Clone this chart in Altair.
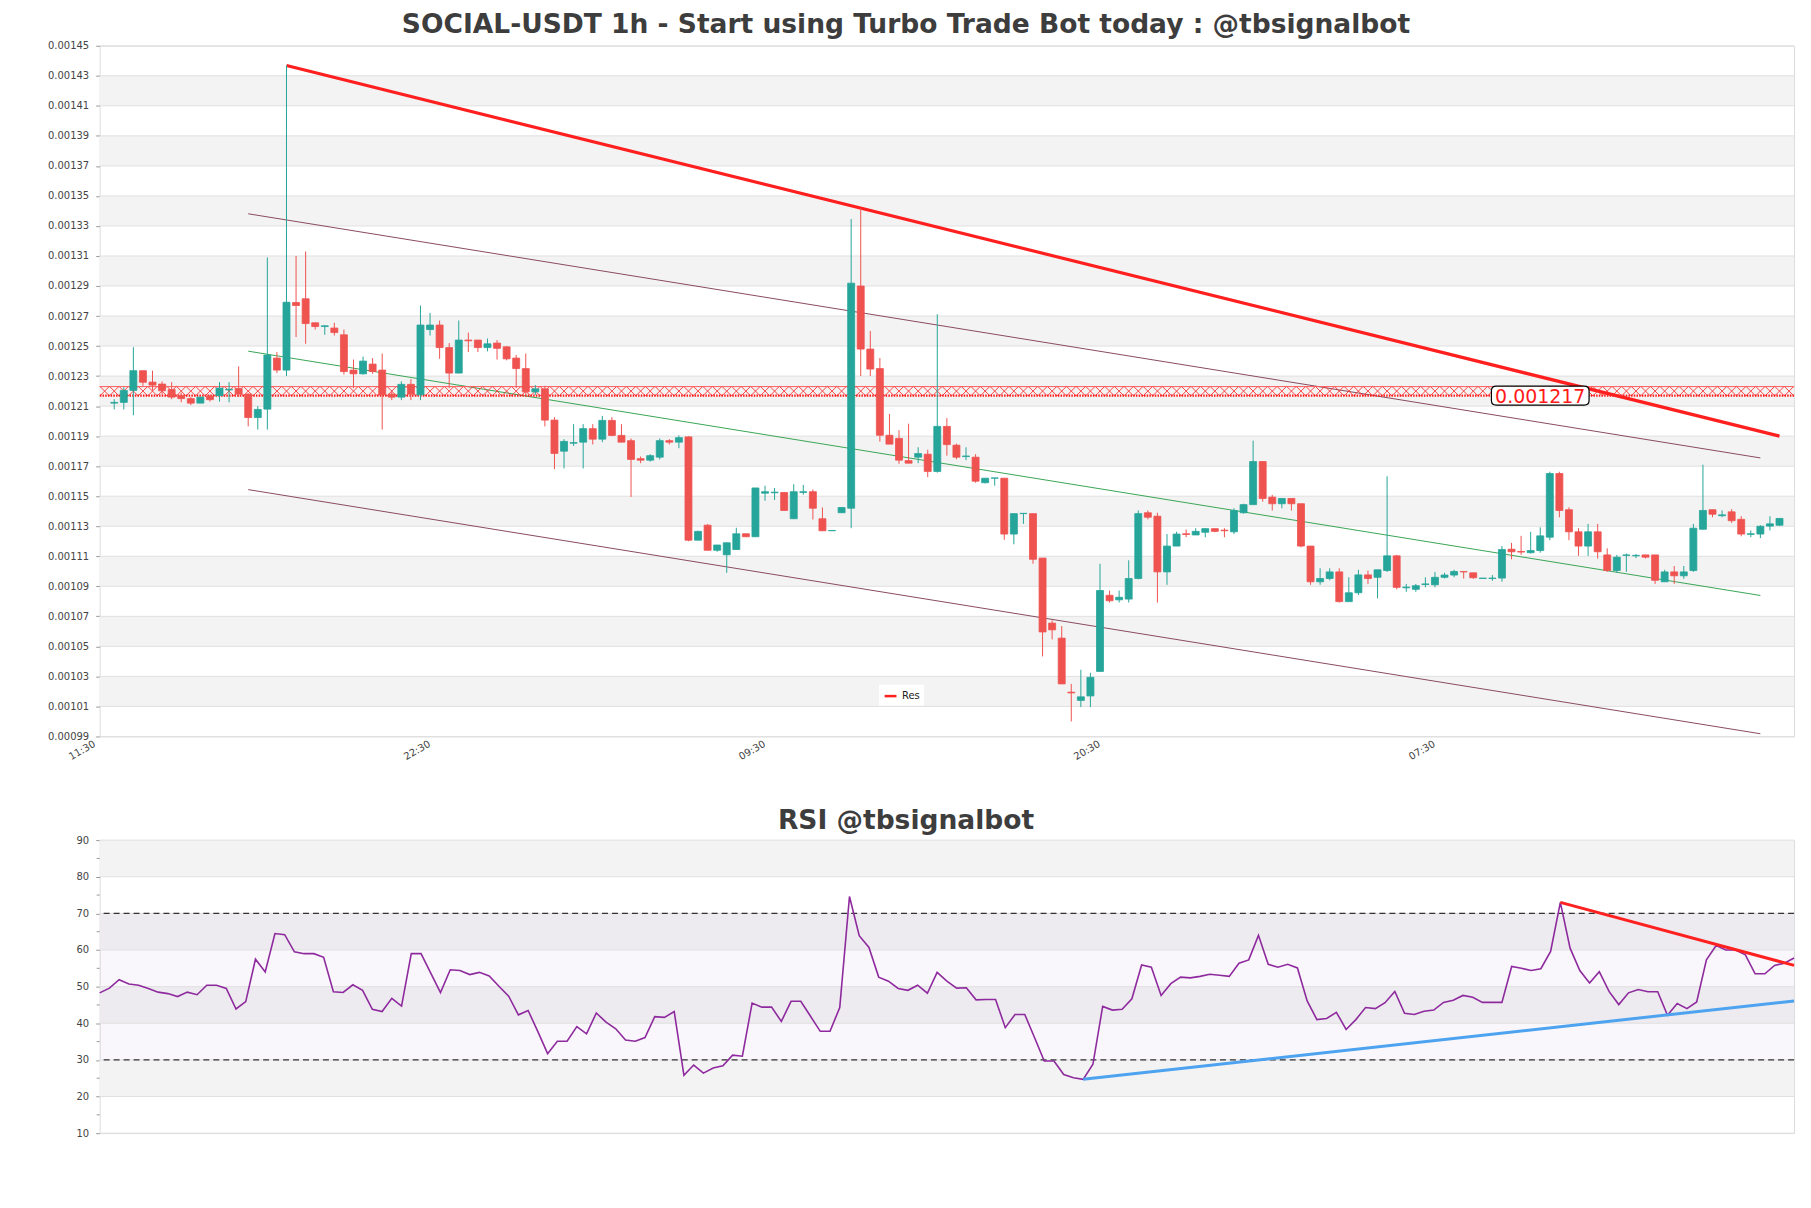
import altair as alt
import pandas as pd

S = 1e-5  # price values below are given in units of 1e-5 USDT

opens = [121.2, 121.25, 122.05, 123.36, 122.6, 122.47, 122.1, 121.7, 121.5, 121.2,
         121.67, 121.7, 122.08, 122.17, 121.8, 120.24, 120.8, 124.2, 123.4, 127.9,
         128.15, 126.55, 126.3, 126.2, 125.75, 123.4, 123.15, 123.8, 123.4, 121.8,
         121.6, 122.45, 121.75, 126.1, 126.4, 124.9, 123.2, 125.4, 125.4, 124.9,
         125.2, 124.95, 124.2, 123.5, 121.95, 122.15, 120.07, 118.0, 118.53, 118.6,
         119.5, 118.8, 120.05, 119.05, 118.7, 117.5, 117.4, 117.6, 118.7, 118.6,
         118.95, 112.07, 113.07, 111.4, 111.1, 111.45, 112.5, 112.3, 115.2, 115.23,
         115.25, 113.5, 115.25, 115.3, 113.5, 112.7, 113.9, 114.2, 129.0, 124.8,
         123.5, 119.06, 118.85, 117.37, 117.6, 117.8, 116.65, 119.65, 118.4, 117.64,
         117.6, 115.9, 116.2, 116.2, 112.48, 113.84, 113.84, 110.88, 106.55, 105.55,
         101.95, 101.4, 101.7, 103.33, 108.4, 108.1, 108.15, 109.52, 113.9, 113.67,
         109.96, 111.68, 112.5, 112.42, 112.6, 112.84, 112.74, 112.63, 113.9, 114.44,
         117.31, 114.94, 114.5, 114.85, 114.5, 111.68, 109.3, 109.52, 109.96, 107.98,
         108.57, 109.76, 109.6, 110.05, 111.03, 108.9, 108.8, 109.12, 109.1, 109.6,
         109.75, 109.98, 109.9, 109.52, 109.52, 109.55, 111.47, 111.32, 111.24, 111.38,
         112.27, 116.51, 114.1, 112.63, 111.68, 112.63, 111.09, 110.05, 111.06, 111.03,
         111.09, 111.09, 109.3, 109.96, 109.7, 110.05, 112.8, 114.1, 113.7, 113.96,
         113.46, 112.46, 112.48, 113.01, 113.07]
highs = [121.46, 122.26, 124.93, 123.36, 123.36, 122.64, 122.6, 121.9, 121.6, 121.6,
         121.76, 122.6, 122.6, 123.65, 121.85, 121.0, 130.9, 124.6, 143.68, 131.0,
         131.3, 126.55, 126.4, 126.55, 126.1, 124.1, 124.3, 124.2, 124.5, 122.05,
         122.65, 122.8, 127.7, 127.2, 126.7, 125.2, 126.7, 125.9, 125.4, 125.5,
         125.4, 125.0, 124.4, 124.5, 122.4, 122.35, 120.27, 118.8, 119.8, 119.8,
         119.8, 120.35, 120.27, 119.8, 118.85, 117.65, 117.8, 118.85, 118.8, 119.05,
         119.0, 112.7, 113.15, 111.75, 111.9, 112.9, 112.5, 115.55, 115.7, 115.55,
         115.25, 115.8, 115.75, 115.45, 114.25, 112.72, 114.25, 133.46, 134.2, 126.0,
         124.2, 120.48, 119.4, 119.83, 118.26, 118.1, 127.12, 120.2, 118.5, 118.26,
         117.8, 116.2, 116.22, 116.2, 113.84, 113.86, 113.84, 110.88, 106.73, 106.35,
         102.5, 103.44, 103.24, 110.5, 108.72, 108.72, 110.73, 114.05, 114.05, 113.9,
         112.48, 112.63, 112.78, 112.87, 112.84, 112.84, 112.87, 114.2, 114.5, 118.7,
         117.31, 115.09, 114.85, 114.85, 114.5, 111.68, 110.2, 110.2, 110.2, 109.6,
         110.1, 110.05, 110.1, 116.33, 111.09, 109.16, 109.16, 109.6, 109.96, 109.9,
         110.1, 109.98, 109.9, 109.55, 109.75, 111.68, 111.89, 112.36, 112.63, 112.93,
         116.63, 116.63, 114.26, 112.87, 113.16, 113.16, 111.53, 111.09, 111.18, 111.15,
         111.09, 111.09, 110.1, 110.35, 110.35, 113.16, 117.1, 114.1, 114.05, 114.14,
         113.67, 112.72, 113.07, 113.67, 113.52]
lows = [120.78, 120.78, 120.39, 122.35, 122.05, 121.76, 121.46, 121.25, 121.07, 121.2,
        121.3, 121.3, 121.25, 121.6, 119.65, 119.44, 119.44, 123.2, 123.0, 125.6,
        125.15, 126.1, 125.75, 125.7, 123.1, 122.2, 123.1, 123.15, 119.44, 121.4,
        121.4, 121.4, 121.4, 125.7, 124.15, 122.2, 123.2, 124.6, 124.6, 124.65,
        124.1, 124.05, 122.2, 121.75, 121.75, 119.65, 116.8, 116.85, 118.35, 116.85,
        118.45, 118.6, 119.0, 118.6, 114.95, 117.2, 117.3, 117.45, 118.45, 118.2,
        112.0, 112.07, 111.4, 111.3, 109.9, 111.45, 112.3, 112.3, 114.7, 114.75,
        114.05, 113.5, 115.1, 113.45, 112.7, 112.7, 113.9, 112.87, 123.0, 123.0,
        118.64, 118.47, 117.16, 117.2, 117.2, 116.27, 116.57, 117.7, 117.46, 117.4,
        115.9, 115.85, 115.7, 112.1, 111.8, 113.16, 110.5, 104.33, 105.46, 102.5,
        100.0, 100.96, 100.96, 103.33, 107.92, 107.92, 107.92, 109.46, 113.46, 107.92,
        109.1, 111.68, 112.27, 112.42, 112.27, 112.6, 112.27, 112.48, 113.84, 114.44,
        114.64, 114.05, 114.2, 114.05, 111.6, 109.1, 109.1, 109.4, 107.92, 107.98,
        108.42, 109.16, 108.2, 109.96, 108.8, 108.63, 108.63, 108.93, 108.93, 109.52,
        109.6, 109.52, 109.5, 109.52, 109.37, 109.31, 110.8, 111.1, 111.18, 111.24,
        112.07, 113.6, 112.07, 111.03, 111.03, 110.85, 109.96, 109.9, 109.96, 110.88,
        110.85, 109.16, 109.3, 109.16, 109.5, 109.96, 112.8, 113.6, 113.6, 113.22,
        112.33, 112.27, 112.21, 112.72, 113.01]
closes = [121.25, 122.05, 123.36, 122.59, 122.4, 122.02, 121.6, 121.5, 121.2, 121.6,
          121.43, 122.2, 122.12, 121.8, 120.24, 120.78, 124.4, 123.4, 127.92, 127.7,
          126.5, 126.3, 126.35, 125.9, 123.3, 123.15, 124.0, 123.3, 121.75, 121.6,
          122.45, 121.8, 126.4, 126.4, 124.9, 123.2, 125.4, 125.35, 124.9, 125.15,
          124.85, 124.15, 123.5, 121.95, 122.15, 120.07, 117.85, 118.65, 118.57, 119.5,
          118.8, 120.05, 119.05, 118.6, 117.45, 117.4, 117.7, 118.7, 118.6, 118.9,
          112.07, 112.66, 111.4, 111.75, 111.9, 112.5, 112.3, 115.55, 115.3, 115.27,
          114.05, 115.3, 115.3, 114.2, 112.7, 112.72, 114.25, 129.19, 124.8, 123.47,
          119.06, 118.47, 117.4, 117.2, 117.84, 116.65, 119.65, 118.44, 117.6, 117.68,
          116.0, 116.2, 116.22, 112.48, 113.84, 113.86, 110.8, 105.96, 106.1, 102.5,
          101.9, 101.64, 102.94, 108.72, 108.04, 108.27, 109.52, 113.84, 113.6, 109.96,
          111.68, 112.48, 112.45, 112.66, 112.84, 112.66, 112.7, 114.05, 114.44, 117.31,
          114.85, 114.5, 114.85, 114.5, 111.68, 109.3, 109.52, 109.96, 107.98, 108.57,
          109.76, 109.52, 110.1, 111.03, 108.93, 108.95, 109.04, 109.16, 109.6, 109.75,
          109.99, 109.96, 109.57, 109.55, 109.55, 111.45, 111.3, 111.28, 111.38, 112.36,
          116.51, 114.05, 112.63, 111.68, 112.63, 111.3, 110.05, 110.94, 111.09, 111.06,
          110.94, 109.4, 109.96, 109.7, 109.96, 112.87, 114.05, 113.8, 113.76, 113.37,
          112.48, 112.5, 113.0, 113.16, 113.52]

rsi = [48.3, 49.6, 51.9, 50.7, 50.4, 49.5, 48.5, 48.1, 47.3, 48.5,
       47.8, 50.4, 50.4, 49.5, 43.9, 45.9, 57.5, 54.0, 64.5, 64.2,
       59.5, 59.0, 59.0, 58.0, 48.6, 48.4, 50.5, 49.0, 43.8, 43.2,
       46.8, 44.7, 59.0, 59.0, 53.7, 48.4, 54.6, 54.4, 53.3, 53.9,
       52.9, 50.1, 47.4, 42.3, 43.5, 37.7, 31.7, 35.1, 35.1, 39.1,
       37.1, 42.8, 40.3, 38.5, 35.4, 35.1, 36.1, 41.8, 41.6, 43.2,
       25.8, 28.6, 26.4, 27.8, 28.4, 31.3, 31.0, 45.5, 44.4, 44.4,
       40.5, 46.0, 46.0, 41.9, 37.8, 37.8, 44.3, 74.6, 63.9, 60.7,
       52.6, 51.5, 49.5, 49.0, 50.4, 48.2, 53.9, 51.5, 49.6, 49.7,
       46.4, 46.5, 46.5, 38.8, 42.4, 42.4, 36.1, 29.7, 29.7, 26.0,
       25.1, 24.7, 28.8, 44.6, 43.6, 43.8, 46.7, 55.9, 55.3, 47.6,
       50.8, 52.6, 52.4, 52.8, 53.4, 53.1, 52.8, 56.4, 57.3, 64.0,
       56.1, 55.3, 56.1, 55.1, 46.1, 41.0, 41.3, 43.0, 38.3, 41.0,
       44.3, 44.0, 45.6, 48.7, 42.7, 42.4, 43.3, 43.6, 45.7, 46.3,
       47.6, 47.1, 45.7, 45.7, 45.7, 55.5, 55.0, 54.4, 54.9, 59.6,
       73.0, 60.5, 54.4, 51.0, 54.1, 48.7, 45.1, 48.3, 49.2, 48.6,
       48.6, 42.2, 45.4, 44.0, 45.8, 57.3, 61.2, 60.0, 60.0, 58.7,
       53.5, 53.5, 55.8, 56.4, 57.8]

x_tick_values = [0, 35, 70, 105, 140]
x_tick_labels = ["11:30", "22:30", "09:30", "20:30", "07:30"]
price_ticks = [99, 101, 103, 105, 107, 109, 111, 113, 115, 117, 119, 121,
               123, 125, 127, 129, 131, 133, 135, 137, 139, 141, 143, 145]
price_band_lo = [101, 105, 109, 113, 117, 121, 125, 129, 133, 137, 141]
price_band_hi = [103, 107, 111, 115, 119, 123, 127, 131, 135, 139, 143]

res_x = [19, 175]
res_y = [143.68, 119.0]
chan_x = [15, 173]
chan_upper = [133.81, 117.55]
chan_mid = [124.66, 108.39]
chan_lower = [115.44, 99.18]
level_value = 121.7
level_top = 122.3
level_label = "0.001217"
label_x = 150

rsi_ticks = [10, 20, 30, 40, 50, 60, 70, 80, 90]
rsi_minor = [15, 25, 35, 45, 55, 65, 75, 85]
rsi_band_lo = [20, 40, 60, 80]
rsi_band_hi = [30, 50, 70, 90]
rsi_levels = [30, 70]
rsi_res_x = [150, 174]
rsi_res_y = [73.0, 55.8]
rsi_sup_x = [101, 174]
rsi_sup_y = [24.7, 46.1]

GREEN = "#26a69a"
RED = "#ef5350"
W, H1, H2 = 1700, 693, 294
FONT = "DejaVu Sans"
TITLE_DX = -41

n = len(opens)
candles = pd.DataFrame({
    "k": list(range(1, n + 1)),
    "open": [v * S for v in opens],
    "high": [v * S for v in highs],
    "low": [v * S for v in lows],
    "close": [v * S for v in closes],
})

xs = alt.Scale(domain=[0, 176], nice=False, zero=False)
ys = alt.Scale(domain=[99 * S, 145 * S], nice=False, zero=False)

XAXIS = alt.Axis(
    values=x_tick_values, title=None, grid=False, domain=False, ticks=False,
    labelExpr="%s[indexof(%s, datum.value)]" % (str(x_tick_labels), str(x_tick_values)),
    labelAngle=-30, labelAlign="right", labelBaseline="top", labelFontSize=10,
    labelColor="#444444", labelFont=FONT, labelPadding=2, labelOffset=-13)
YAXIS = alt.Axis(
    values=[v * S for v in price_ticks], format=".5f", title=None, grid=False,
    domain=False, labelFontSize=10, labelColor="#444444", tickColor="#999999",
    tickSize=4, labelFont=FONT, labelPadding=7)


def px(field):
    return alt.X(field, scale=xs, axis=XAXIS)


def py(field):
    return alt.Y(field, scale=ys, axis=YAXIS)


bands = pd.DataFrame({"lo": [v * S for v in price_band_lo], "hi": [v * S for v in price_band_hi]})
band_layer = alt.Chart(bands).mark_rect(color="#f3f3f3").encode(
    x=alt.value(0), x2=alt.value(W), y=py("lo:Q"), y2="hi:Q")

grid = pd.DataFrame({"v": [v * S for v in price_ticks]})
grid_layer = alt.Chart(grid).mark_rule(color="#e0e0e0", strokeWidth=1).encode(y=py("v:Q"))

chan = pd.DataFrame({
    "x": chan_x * 3,
    "y": [v * S for v in chan_upper + chan_mid + chan_lower],
    "line": ["upper"] * 2 + ["mid"] * 2 + ["lower"] * 2,
    "col": ["#8a4b5c"] * 2 + ["#3aa655"] * 2 + ["#8a4b5c"] * 2,
})
chan_layer = alt.Chart(chan).mark_line(strokeWidth=1).encode(
    x=px("x:Q"), y=py("y:Q"), detail="line:N",
    stroke=alt.Stroke("col:N", scale=None))

hatch = pd.DataFrame({"x": list(range(0, 177)), "y": [(level_value + level_top) / 2 * S] * 177})
hatch_layer = alt.Chart(hatch).mark_point(
    shape="M-1,-1L1,1M1,-1L-1,1", size=93, filled=False, color="#ff3030",
    strokeWidth=0.9, opacity=1).encode(x=px("x:Q"), y=py("y:Q"))

lvl = pd.DataFrame({"v": [level_value * S]})
lvl_top = pd.DataFrame({"v": [level_top * S]})
lvl_layer = alt.Chart(lvl).mark_rule(color="#ff1a1a", strokeWidth=2.2, strokeDash=[1.5, 1.2]).encode(
    y=py("v:Q"))
lvl_top_layer = alt.Chart(lvl_top).mark_rule(color="#ff5a5a", strokeWidth=1).encode(y=py("v:Q"))

res = pd.DataFrame({"x": res_x, "y": [v * S for v in res_y], "name": ["Res", "Res"]})
res_layer = alt.Chart(res).mark_line(strokeWidth=3.2).encode(
    x=px("x:Q"), y=py("y:Q"),
    color=alt.Color("name:N", scale=alt.Scale(domain=["Res"], range=["#ff1f1f"]),
                    legend=alt.Legend(title=None, orient="none", legendX=782, legendY=641,
                                      symbolType="stroke", symbolStrokeWidth=2.5,
                                      symbolSize=140, labelFontSize=10, labelFont=FONT,
                                      labelColor="#222222", padding=4, fillColor="white")))

color_cond = alt.condition("datum.close >= datum.open", alt.value(GREEN), alt.value(RED))
wick_layer = alt.Chart(candles).mark_rule(strokeWidth=1).encode(
    x=px("k:Q"), y=py("low:Q"), y2="high:Q", stroke=color_cond)
body_layer = alt.Chart(candles).mark_bar(size=7, strokeWidth=0.8).encode(
    x=px("k:Q"), y=py("open:Q"), y2="close:Q", fill=color_cond, stroke=color_cond)

lab = pd.DataFrame({"x": [label_x], "y": [level_value * S], "t": [level_label]})
box_layer = alt.Chart(lab).mark_point(
    shape="M-0.9,-0.194L0.9,-0.194Q1,-0.194 1,-0.1L1,0.1Q1,0.194 0.9,0.194L-0.9,0.194Q-1,0.194 -1,0.1L-1,-0.1Q-1,-0.194 -0.9,-0.194Z",
    size=9604, filled=True, fill="white", stroke="black", strokeWidth=1.2, opacity=1).encode(
    x=px("x:Q"), y=py("y:Q"))
text_layer = alt.Chart(lab).mark_text(color="#ff1a1a", fontSize=19, font=FONT, align="center",
                                       baseline="middle", dy=1).encode(
    x=px("x:Q"), y=py("y:Q"), text="t:N")

top = alt.layer(band_layer, grid_layer, chan_layer, hatch_layer, lvl_top_layer, lvl_layer,
                res_layer, wick_layer, body_layer, box_layer, text_layer).properties(
    width=W, height=H1,
    title=alt.TitleParams("SOCIAL-USDT 1h - Start using Turbo Trade Bot today : @tbsignalbot",
                          fontSize=26.6, fontWeight="bold", color="#3d3d3d", font=FONT,
                          anchor="middle", offset=2, dx=TITLE_DX))

# RSI panel
rxs = alt.Scale(domain=[0, len(rsi) - 1], nice=False, zero=False)
rys = alt.Scale(domain=[10, 90], nice=False, zero=False)
RYAXIS = alt.Axis(values=rsi_ticks, title=None, grid=False, domain=False, labelFontSize=10,
                  labelColor="#444444", tickColor="#999999", tickSize=4, labelFont=FONT,
                  labelPadding=7)


def ry(field):
    return alt.Y(field, scale=rys, axis=RYAXIS)


def rx(field):
    return alt.X(field, scale=rxs, axis=None)


rb = pd.DataFrame({"lo": rsi_band_lo, "hi": rsi_band_hi})
rband_layer = alt.Chart(rb).mark_rect(color="#f3f3f3").encode(
    x=alt.value(0), x2=alt.value(W), y=ry("lo:Q"), y2="hi:Q")
zone = pd.DataFrame({"lo": [rsi_levels[0]], "hi": [rsi_levels[1]]})
zone_layer = alt.Chart(zone).mark_rect(color="#b08cc8", opacity=0.07).encode(
    x=alt.value(0), x2=alt.value(W), y=ry("lo:Q"), y2="hi:Q")
rgrid = pd.DataFrame({"v": rsi_ticks})
rgrid_layer = alt.Chart(rgrid).mark_rule(color="#e0e0e0").encode(y=ry("v:Q"))
rminor = pd.DataFrame({"v": rsi_minor})
rminor_layer = alt.Chart(rminor).mark_rule(color="#999999").encode(
    x=alt.value(-3), x2=alt.value(0), y=ry("v:Q"))
rlv = pd.DataFrame({"v": rsi_levels})
rlv_layer = alt.Chart(rlv).mark_rule(color="#333333", strokeDash=[6, 4], strokeWidth=1.1).encode(
    y=ry("v:Q"))
rdf = pd.DataFrame({"i": list(range(len(rsi))), "rsi": rsi})
rline_layer = alt.Chart(rdf).mark_line(color="#8e2a9e", strokeWidth=1.6).encode(
    x=rx("i:Q"), y=ry("rsi:Q"))
rtl = pd.DataFrame({"x": rsi_res_x + rsi_sup_x, "y": rsi_res_y + rsi_sup_y,
                    "line": ["res", "res", "sup", "sup"],
                    "col": ["#ff2020", "#ff2020", "#4da3ef", "#4da3ef"]})
rtl_layer = alt.Chart(rtl).mark_line(strokeWidth=3).encode(
    x=rx("x:Q"), y=ry("y:Q"), detail="line:N", stroke=alt.Stroke("col:N", scale=None))

bottom = alt.layer(rband_layer, zone_layer, rgrid_layer, rminor_layer, rlv_layer,
                   rline_layer, rtl_layer).properties(
    width=W, height=H2,
    title=alt.TitleParams("RSI @tbsignalbot", fontSize=26.6, fontWeight="bold", color="#3d3d3d",
                          font=FONT, anchor="middle", offset=1, dx=TITLE_DX))

chart = alt.vconcat(top, bottom, spacing=44).resolve_scale(
    color="independent", x="independent", y="independent").properties(
    padding={"left": 47, "top": 9, "right": 10, "bottom": 10},
    background="white").configure_view(stroke="#dcdcdc", strokeWidth=1)

chart.save("out.html", embed_options={"renderer": "svg", "actions": False})
